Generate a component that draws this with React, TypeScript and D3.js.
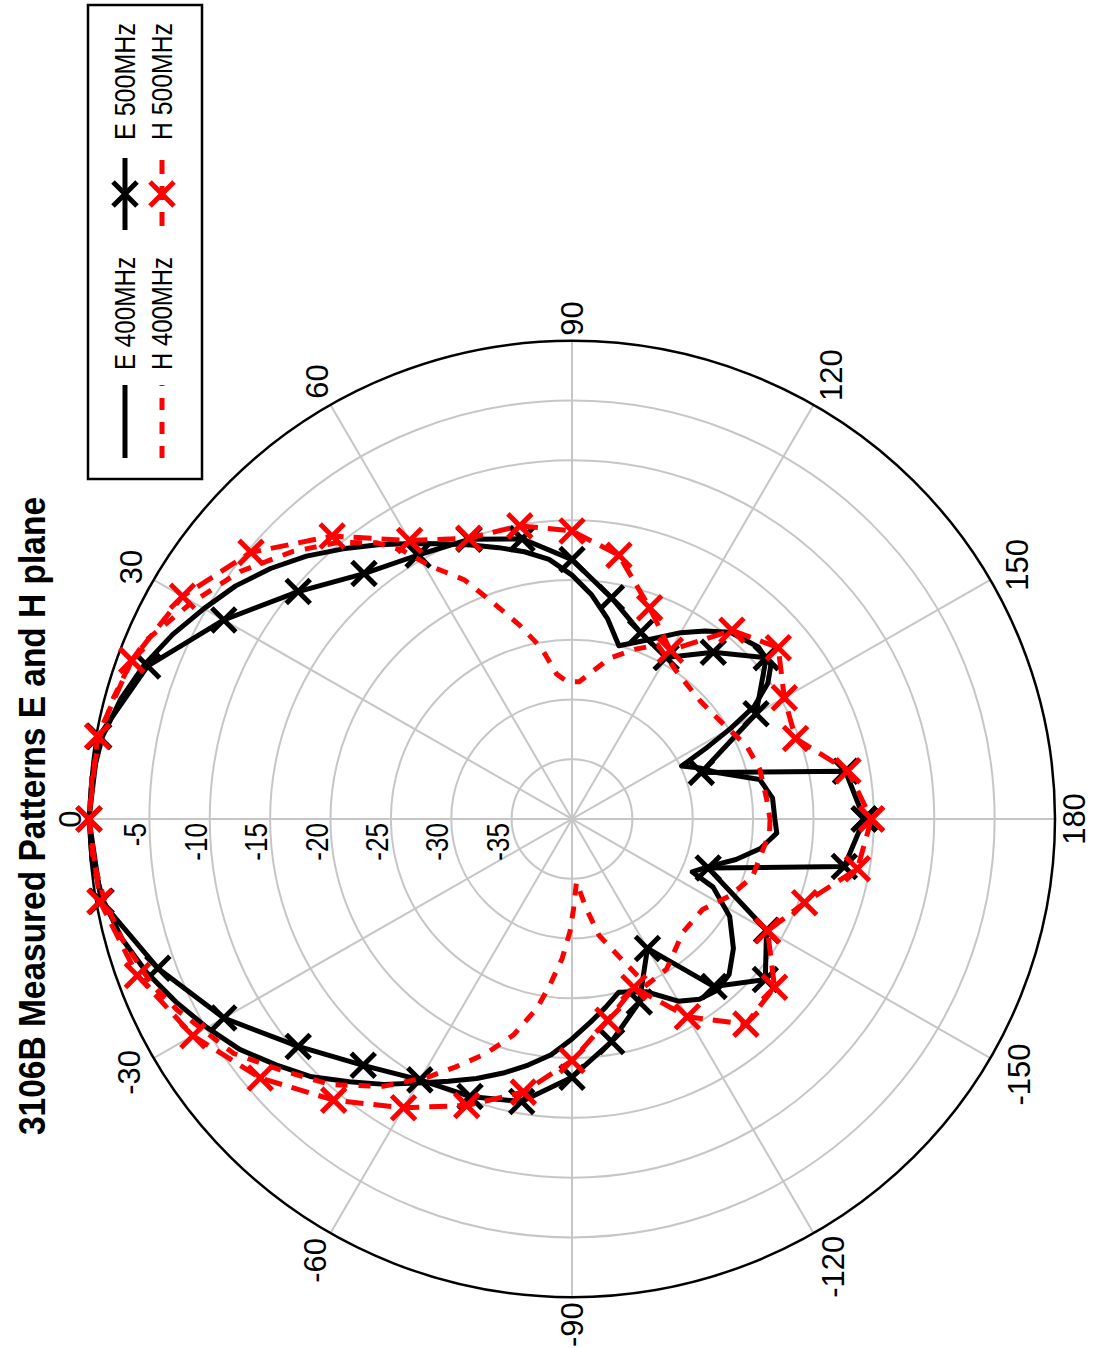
import React from 'react';
import * as d3 from 'd3';

const TITLE = '3106B Measured Patterns E and H plane';
const RING_VALUES = [-35, -30, -25, -20, -15, -10, -5];
const RADIAL_LABELS = ['-5', '-10', '-15', '-20', '-25', '-30', '-35'];
const ANGLE_TICKS = [0, 30, 60, 90, 120, 150, 180, -150, -120, -90, -60, -30];
const LEGEND_LABELS = ['E 400MHz', 'H 400MHz', 'E 500MHz', 'H 500MHz'];

const e400Angles = [-180, -176, -171, -166, -161, -156, -154, -148, -141, -135, -130, -125, -120, -113, -105, -100, -95, -90, -85, -80, -75, -70, -65, -60, -55, -50, -45, -40, -35, -30, -25, -20, -15, -10, -5, 0, 5, 10, 15, 20, 25, 30, 35, 40, 45, 50, 55, 60, 65, 70, 75, 80, 85, 90, 95, 100, 105, 112, 120, 125, 130, 137, 142, 145, 148, 150, 152, 154, 158, 162, 168, 174, 180];
const e400Values = [-23.2, -23.0, -24.2, -26.0, -27.9, -29.1, -27.0, -24.6, -22.8, -21.6, -21.3, -21.6, -22.4, -24.3, -25.0, -24.0, -22.9, -21.6, -20.2, -19.1, -18.0, -16.9, -15.8, -14.5, -12.9, -11.3, -9.5, -8.0, -6.4, -5.1, -3.8, -2.5, -1.4, -0.6, -0.1, 0, -0.1, -0.5, -1.3, -2.3, -3.5, -4.8, -6.0, -7.4, -8.9, -10.5, -12.0, -13.4, -14.6, -15.6, -16.5, -17.3, -18.2, -19.6, -21.2, -23.0, -25.0, -23.9, -22.0, -20.8, -19.6, -18.9, -19.1, -20.2, -22.2, -24.8, -27.5, -29.9, -28.6, -27.4, -24.1, -23.3, -23.2];

const h400Angles = [-180, -176, -162, -154, -145, -134, -122, -114, -109, -103, -99, -94, -91, -89, -86, -82.5, -79.6, -75, -70, -65, -61, -55, -48, -41, -35, -26, -22, -15, -10, -5, 0, 5, 10, 15, 20, 23, 30, 37, 44, 50, 55, 58, 61, 66, 70, 75, 80, 84, 88, 93, 98, 103, 110, 116, 126, 137, 147, 157, 165, 174, 180];
const h400Values = [-23.6, -23.6, -24.3, -25.4, -26.8, -26.8, -25.2, -24.8, -27.7, -30.0, -32.4, -34.7, -32.5, -30.6, -28.3, -26.0, -23.9, -21.3, -19.1, -17.1, -15.3, -12.7, -10.1, -8.0, -5.8, -3.6, -2.6, -1.4, -0.7, -0.2, 0, -0.1, -0.3, -0.7, -1.2, -1.7, -3.7, -5.6, -7.8, -9.8, -11.8, -13.5, -15.8, -18.1, -20.7, -23.2, -25.5, -27.8, -28.5, -28.5, -27.5, -26.2, -24.9, -23.8, -25.0, -25.5, -25.2, -24.3, -23.9, -23.8, -23.6];

const e500Angles = [-180, -170, -160, -150, -140, -130, -120, -110, -100, -90, -80, -70, -60, -50, -40, -30, -20, -10, 0, 10, 20, 30, 40, 50, 60, 70, 80, 90, 100, 110, 120, 130, 140, 150, 160, 170, 180];
const e500Values = [-15.8, -17.1, -28.0, -21.4, -19.1, -21.7, -27.5, -23.7, -21.1, -18.4, -16.0, -15.3, -14.8, -13.1, -10.4, -6.7, -3.5, -0.4, 0, -0.2, -2.6, -6.7, -10.4, -13.2, -14.5, -15.1, -16.2, -18.3, -21.2, -23.4, -24.4, -21.8, -19.0, -22.4, -28.6, -17.0, -15.8];

const h500Angles = [-180, -170, -160, -150, -140, -130, -120, -110, -100, -90, -80, -70, -60, -50, -40, -30, -20, -10, 0, 10, 20, 30, 40, 50, 60, 70, 80, 90, 100, 110, 120, 130, 140, 150, 160, 170, 180];
const h500Values = [-15.2, -16.0, -19.5, -21.3, -18.1, -17.6, -20.9, -25.0, -22.9, -19.8, -16.8, -14.5, -12.1, -9.3, -6.3, -3.75, -1.7, -0.3, 0, -0.1, -1.2, -2.75, -5.3, -9.1, -13.1, -15.0, -15.1, -15.9, -17.6, -21.2, -23.7, -19.4, -17.7, -19.7, -20.3, -16.8, -15.2];

const W = 1101;
const H = 1348;
const CX = 572;
const CY = 819;
const R = 483;
const KX = 1.0;
const KY = 0.99;

const rScale = d3.scaleLinear().domain([-40, 0]).range([0, R]);
const rad = (a: number) => (a * Math.PI) / 180;
const px = (a: number, v: number) => CX - rScale(v) * Math.cos(rad(a)) * KX;
const py = (a: number, v: number) => CY - rScale(v) * Math.sin(rad(a)) * KY;

type P = { a: number; v: number };
const zip = (as: number[], vs: number[]): P[] => as.map((a, i) => ({ a, v: vs[i] }));

const lineGen = d3
  .line<P>()
  .x((d) => px(d.a, d.v))
  .y((d) => py(d.a, d.v));

const RED = '#ff0000';
const FONT = "'Liberation Sans', Arial, sans-serif";

const textLen = (s: string, fs: number, k = 1) =>
  s.split('').reduce((acc, c) => acc + (c === '-' ? 0.333 : 0.556), 0) * fs * k;

function XMark({ x, y, color, s = 12 }: { x: number; y: number; color: string; s?: number }) {
  return (
    <path
      d={`M${x - s},${y - s}L${x + s},${y + s}M${x - s},${y + s}L${x + s},${y - s}`}
      stroke={color}
      strokeWidth={5}
      fill="none"
    />
  );
}

export default function App() {
  const e400 = zip(e400Angles, e400Values);
  const h400 = zip(h400Angles, h400Values);
  const e500 = zip(e500Angles, e500Values);
  const h500 = zip(h500Angles, h500Values);

  const angleFont = 31;
  const radialFont = 31;

  return (
    <svg
      width={W}
      height={H}
      viewBox={`0 0 ${W} ${H}`}
      style={{ position: 'absolute', left: 0, top: 0, background: '#fff' }}
    >
      <rect x={0} y={0} width={W} height={H} fill="#fff" />
      {/* grid rings */}
      {RING_VALUES.map((v) => (
        <ellipse
          key={v}
          cx={CX}
          cy={CY}
          rx={rScale(v) * KX}
          ry={rScale(v) * KY}
          fill="none"
          stroke="#c6c6c6"
          strokeWidth={2}
        />
      ))}
      {/* spokes */}
      {[0, 30, 60, 90, 120, 150].map((a) => (
        <line
          key={a}
          x1={px(a, 0)}
          y1={py(a, 0)}
          x2={px(a + 180, 0)}
          y2={py(a + 180, 0)}
          stroke="#c6c6c6"
          strokeWidth={2}
        />
      ))}
      {/* outer circle */}
      <ellipse cx={CX} cy={CY} rx={R * KX} ry={R * KY} fill="none" stroke="#000" strokeWidth={2.5} />

      {/* radial labels */}
      {RING_VALUES.slice()
        .reverse()
        .map((v, i) => (
          <text
            key={v}
            transform={`translate(${px(0, v) - 3},${CY + 4}) rotate(-90)`}
            textAnchor="end"
            fontFamily={FONT}
            fontSize={radialFont}
            textLength={textLen(RADIAL_LABELS[i], radialFont, 0.84)}
            lengthAdjust="spacingAndGlyphs"
            fill="#000"
          >
            {RADIAL_LABELS[i]}
          </text>
        ))}

      {/* angle labels */}
      {ANGLE_TICKS.map((a) => {
        const label = String(a);
        const hgt = angleFont * 0.72;
        const len = textLen(label, angleFont);
        const off = 5 + Math.abs(Math.cos(rad(a))) * (hgt / 2 + 3) + Math.abs(Math.sin(rad(a))) * len / 2;
        const x = CX - (R + off) * Math.cos(rad(a)) * KX;
        const y = CY - (R * KY + off) * Math.sin(rad(a));
        return (
          <text
            key={a}
            transform={`translate(${x + hgt / 2},${y}) rotate(-90)`}
            textAnchor="middle"
            fontFamily={FONT}
            fontSize={angleFont}
            fill="#000"
          >
            {label}
          </text>
        );
      })}

      {/* data */}
      <path d={lineGen(e400) || ''} fill="none" stroke="#000" strokeWidth={5} strokeLinejoin="round" />
      <path d={lineGen(e500) || ''} fill="none" stroke="#000" strokeWidth={5} strokeLinejoin="round" />
      {e500.map((d, i) => (
        <XMark key={'e' + i} x={px(d.a, d.v)} y={py(d.a, d.v)} color="#000" />
      ))}
      <path d={lineGen(h400) || ''} fill="none" stroke={RED} strokeWidth={5} strokeDasharray="12,11" />
      <path d={lineGen(h500) || ''} fill="none" stroke={RED} strokeWidth={5} strokeDasharray="18,10" />
      {h500.map((d, i) => (
        <XMark key={'h' + i} x={px(d.a, d.v)} y={py(d.a, d.v)} color={RED} />
      ))}

      {/* title */}
      <text
        transform={`translate(45,${816}) rotate(-90)`}
        textAnchor="middle"
        fontFamily={FONT}
        fontWeight="bold"
        fontSize={36}
        textLength={638}
        lengthAdjust="spacingAndGlyphs"
        fill="#000"
      >
        {TITLE}
      </text>

      {/* legend */}
      <g transform="translate(88,479) rotate(-90)">
        <rect x={0} y={0} width={474} height={114} fill="#fff" stroke="#000" strokeWidth={2.5} />
        <line x1={21} y1={37} x2={94} y2={37} stroke="#000" strokeWidth={5} />
        <line x1={21} y1={74} x2={94} y2={74} stroke={RED} strokeWidth={5} strokeDasharray="12,12" />
        <text x={109} y={47} fontFamily={FONT} fontSize={29} textLength={113} lengthAdjust="spacingAndGlyphs" fill="#000">
          {LEGEND_LABELS[0]}
        </text>
        <text x={109} y={84} fontFamily={FONT} fontSize={29} textLength={113} lengthAdjust="spacingAndGlyphs" fill="#000">
          {LEGEND_LABELS[1]}
        </text>
        <line x1={249} y1={37} x2={321} y2={37} stroke="#000" strokeWidth={5} />
        <XMark x={285} y={37} color="#000" />
        <line x1={249} y1={74} x2={321} y2={74} stroke={RED} strokeWidth={5} strokeDasharray="14,12" strokeDashoffset={-4} />
        <XMark x={285} y={74} color={RED} />
        <text x={339} y={47} fontFamily={FONT} fontSize={29} textLength={117} lengthAdjust="spacingAndGlyphs" fill="#000">
          {LEGEND_LABELS[2]}
        </text>
        <text x={339} y={84} fontFamily={FONT} fontSize={29} textLength={117} lengthAdjust="spacingAndGlyphs" fill="#000">
          {LEGEND_LABELS[3]}
        </text>
      </g>
    </svg>
  );
}
